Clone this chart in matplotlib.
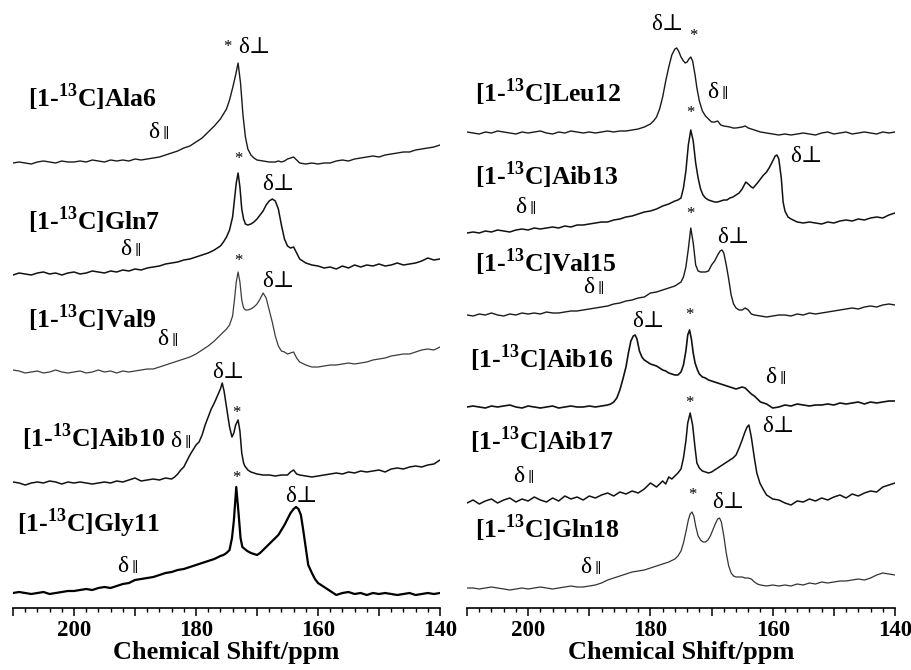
import matplotlib
matplotlib.use("Agg")
import matplotlib.pyplot as plt
from matplotlib.ticker import MultipleLocator, FuncFormatter

plt.rcParams['font.family'] = ['Liberation Serif', 'DejaVu Serif']
plt.rcParams['mathtext.fontset'] = 'custom'
plt.rcParams['mathtext.rm'] = 'Liberation Serif'
plt.rcParams['mathtext.bf'] = 'Liberation Serif:bold'

# -----------------------
# spectra (ppm, intensity in px above baseline)
# -----------------------
ala6_ppm = [210, 209, 208, 207, 206, 205, 204, 203, 202, 201,
            200, 199, 198, 197, 196, 195, 194, 193, 192, 191,
            190, 189, 188, 187, 186, 185, 184, 183, 182, 181,
            180, 179, 178, 177, 176, 175, 174.5, 174, 173.5, 173.1,
            172.7, 172.3, 171.9, 171.5, 171, 170.5, 170, 169, 168, 167,
            166.5, 166, 165.5, 165, 164, 163, 162, 161, 160, 159,
            158, 157, 156, 155, 154, 153, 152, 151, 150, 149,
            148, 147, 146, 145, 144, 143, 142, 141, 140]
ala6_int = [0, 1, 0, -1, 1, 2, 1, 0, 2, 1,
            1, 2, 1, 3, 2, 1, 3, 2, 3, 2,
            4, 3, 4, 5, 6, 8, 10, 12, 15, 17,
            21, 25, 31, 37, 44, 54, 63, 75, 88, 100,
            80, 48, 26, 14, 8, 5, 3, 2, 1, 1,
            2, 1, 2, 4, 6, 0, -1, 0, -1, 0,
            0, 2, 3, 2, 4, 5, 6, 7, 6, 8,
            9, 10, 11, 11, 13, 14, 15, 16, 18]

gln7_ppm = [210, 209, 208, 207, 206, 205, 204, 203, 202, 201,
            200, 199, 198, 197, 196, 195, 194, 193, 192, 191,
            190, 189, 188, 187, 186, 185, 184, 183, 182, 181,
            180, 179, 178, 177, 176, 175.5, 175, 174.5, 174, 173.7,
            173.4, 173.1, 172.8, 172.5, 172.2, 171.9, 171.5, 171, 170.5, 170,
            169.5, 169, 168.5, 168, 167.5, 167, 166.5, 166, 165.5, 165,
            164.5, 164, 163.5, 163, 162, 161, 160, 159, 158, 157,
            156, 155, 154, 153, 152, 151, 150, 149, 148, 147,
            146, 145, 144, 143, 142, 141, 140]
gln7_int = [0, 2, 1, 0, 2, 3, 1, 2, 0, 2,
            3, 1, 2, 4, 3, 2, 4, 3, 5, 4,
            6, 5, 7, 8, 9, 11, 12, 13, 15, 16,
            18, 20, 22, 25, 29, 33, 38, 45, 58, 75,
            92, 102, 88, 66, 56, 51, 50, 51, 53, 56,
            60, 64, 70, 74, 76, 74, 66, 50, 36, 29,
            27, 28, 22, 16, 12, 10, 9, 7, 8, 6,
            9, 7, 10, 8, 10, 9, 11, 9, 10, 12,
            10, 11, 12, 14, 17, 15, 16]

val9_ppm = [210, 209, 208, 207, 206, 205, 204, 203, 202, 201,
            200, 199, 198, 197, 196, 195, 194, 193, 192, 191,
            190, 189, 188, 187, 186, 185, 184, 183, 182, 181,
            180, 179, 178, 177, 176, 175.5, 175, 174.5, 174, 173.7,
            173.4, 173.1, 172.8, 172.5, 172.2, 171.9, 171.5, 171, 170.5, 170,
            169.5, 169, 168.5, 168, 167.5, 167, 166.5, 166, 165.5, 165,
            164.5, 164, 163.5, 163, 162, 161, 160, 159, 158, 157,
            156, 155, 154, 153, 152, 151, 150, 149, 148, 147,
            146, 145, 144, 143, 142, 141, 140]
val9_int = [2, 1, -1, 0, 1, -1, 0, 2, 0, -1,
            0, 1, -1, 0, 2, 0, 1, -1, 1, 0,
            1, 2, 3, 3, 5, 7, 9, 11, 13, 15,
            18, 22, 26, 31, 37, 40, 43, 47, 56, 72,
            90, 100, 90, 72, 64, 62, 62, 63, 65, 68,
            73, 79, 74, 62, 50, 36, 26, 21, 20, 18,
            19, 20, 14, 10, 7, 5, 5, 6, 7, 7,
            8, 9, 8, 9, 10, 12, 13, 14, 16, 17,
            18, 18, 20, 22, 23, 22, 25]

aib10_ppm = [210, 209, 208, 207, 206, 205, 204, 203, 202, 201,
             200, 199, 198, 197, 196, 195, 194, 193, 192, 191,
             190, 189, 188, 187, 186, 185, 184, 183.5, 183, 182.5,
             182, 181.5, 181, 180.5, 180, 179.5, 179, 178.5, 178, 177.5,
             177, 176.5, 176, 175.7, 175.4, 175.1, 174.8, 174.5, 174.1, 173.8,
             173.5, 173.1, 172.8, 172.5, 172.2, 172, 171.5, 171, 170.5, 170,
             169, 168, 167, 166, 165, 164.5, 164, 163.5, 163, 162,
             161, 160, 159, 158, 157, 156, 155, 154, 153, 152,
             151, 150, 149, 148, 147, 146, 145, 144, 143, 142,
             141, 140]
aib10_int = [1, 0, -2, 0, 1, 0, 2, 1, -1, 1,
             0, 1, 0, -1, 0, 1, 0, 2, 1, 3,
             5, 2, 3, 4, 3, 5, 4, 6, 9, 13,
             16, 22, 28, 33, 38, 41, 48, 58, 66, 74,
             80, 87, 94, 100, 92, 80, 68, 56, 46, 50,
             58, 63, 52, 30, 20, 17, 13, 11, 10, 9,
             8, 8, 7, 8, 8, 11, 13, 9, 8, 7,
             6, 7, 8, 9, 10, 9, 11, 10, 12, 11,
             12, 13, 11, 14, 15, 14, 16, 17, 16, 18,
             19, 23]

gly11_ppm = [210, 209, 208, 207, 206, 205, 204, 203, 202, 201,
             200, 199, 198, 197, 196, 195, 194, 193, 192, 191,
             190, 189, 188, 187, 186, 185, 184, 183, 182, 181,
             180, 179, 178, 177, 176, 175.5, 175, 174.5, 174.1, 173.8,
             173.4, 173.0, 172.7, 172.4, 172, 171.6, 171, 170.5, 170, 169.5,
             169, 168.5, 168, 167.5, 167, 166.5, 166, 165.5, 165, 164.5,
             164, 163.6, 163.2, 162.8, 162.4, 162, 161.6, 161, 160.5, 160,
             159, 158, 157, 156, 155, 154, 153, 152, 151, 150,
             149, 148, 147, 146, 145, 144, 143, 142, 141, 140]
gly11_int = [0, 1, 0, -1, 0, 1, -1, 0, 1, 2,
             2, 3, 4, 3, 5, 6, 5, 7, 9, 10,
             13, 14, 15, 16, 18, 20, 21, 23, 24, 26,
             28, 30, 32, 34, 37, 38, 40, 43, 55, 72,
             106, 78, 55, 46, 44, 42, 40, 39, 38, 40,
             43, 46, 49, 52, 55, 58, 63, 68, 74, 80,
             84, 86, 84, 78, 62, 45, 28, 20, 14, 10,
             6, 2, -2, 0, 1, -1, 0, -2, 0, -1,
             0, -1, -2, -1, 0, -2, -1, 0, -1, 0]

leu12_ppm = [210, 209, 208, 207, 206, 205, 204, 203, 202, 201,
             200, 199, 198, 197, 196, 195, 194, 193, 192, 191,
             190, 189, 188, 187, 186, 185, 184, 183, 182, 181,
             180, 179.5, 179, 178.5, 178, 177.5, 177, 176.5, 176, 175.7,
             175.4, 175, 174.6, 174.3, 174, 173.7, 173.4, 173.1, 172.7, 172.4,
             172, 171.5, 171, 170.5, 170, 169.5, 169, 168.5, 168, 167,
             166.5, 166, 165, 164.5, 164, 163, 162, 161, 160, 159,
             158, 157, 156, 155, 154, 153, 152, 151, 150, 149,
             148, 147, 146, 145, 144, 143, 142, 141, 140]
leu12_int = [1, 0, -1, 1, 0, 2, 1, 0, -1, 1,
             0, 1, 2, 0, -1, 1, 0, 2, 1, 0,
             1, 0, 1, 2, 1, 2, 2, 3, 4, 6,
             9, 12, 16, 24, 36, 52, 66, 78, 84, 85,
             82, 76, 72, 70, 71, 74, 76, 72, 58, 45,
             32, 22, 17, 14, 11, 11, 12, 8, 7, 6,
             5, 5, 6, 7, 5, 3, 1, 0, -1, -2,
             -1, -2, -1, 0, -1, -2, 0, 1, -1, 0,
             1, -1, 0, 1, 0, -1, 1, 0, 1]

aib13_ppm = [210, 209, 208, 207, 206, 205, 204, 203, 202, 201,
             200, 199, 198, 197, 196, 195, 194, 193, 192, 191,
             190, 189, 188, 187, 186, 185, 184, 183, 182, 181,
             180, 179, 178, 177, 176, 175.5, 175, 174.6, 174.2, 173.8,
             173.4, 173.0, 172.6, 172.2, 171.8, 171.4, 171, 170.5, 170, 169.5,
             169, 168.5, 168, 167.5, 167, 166.5, 166, 165.5, 165, 164.4,
             164, 163.5, 163.2, 162.5, 162, 161.5, 161, 160.5, 160, 159.6,
             159.3, 159, 158.6, 158.3, 158, 157.5, 157, 156, 155, 154,
             153, 152, 151, 150, 149, 148, 147, 146, 145, 144,
             143, 142, 141, 140]
aib13_int = [0, 1, 0, 2, 1, 3, 2, 1, 3, 4,
             3, 5, 4, 5, 6, 5, 7, 6, 8, 8,
             9, 10, 11, 11, 13, 14, 16, 17, 19, 21,
             22, 24, 27, 29, 32, 33, 35, 45, 62, 88,
             103, 92, 70, 55, 44, 38, 35, 33, 32, 31,
             31, 32, 33, 33, 35, 36, 38, 40, 44, 51,
             49, 46, 45, 50, 54, 58, 61, 66, 72, 77,
             78, 74, 55, 31, 22, 16, 14, 11, 10, 11,
             10, 9, 11, 10, 12, 13, 12, 14, 13, 15,
             16, 15, 18, 20]

val15_ppm = [210, 209, 208, 207, 206, 205, 204, 203, 202, 201,
             200, 199, 198, 197, 196, 195, 194, 193, 192, 191,
             190, 189, 188, 187, 186, 185, 184, 183, 182, 181,
             180, 179, 178, 177, 176, 175.5, 175, 174.6, 174.2, 173.8,
             173.4, 173.0, 172.6, 172.2, 171.8, 171.4, 171, 170.5, 170, 169.5,
             169, 168.6, 168.3, 168, 167.6, 167.2, 166.8, 166.4, 166, 165.5,
             165, 164.5, 164, 163.5, 163, 162, 161, 160, 159, 158,
             157, 156, 155, 154, 153, 152, 151, 150, 149, 148,
             147, 146, 145, 144, 143, 142, 141, 140]
val15_int = [0, -1, 1, 0, 2, 0, -1, 1, 0, 2,
             1, 2, 1, 3, 2, 2, 3, 4, 4, 5,
             6, 7, 8, 9, 11, 12, 14, 15, 17, 18,
             22, 23, 25, 27, 29, 31, 33, 38, 48, 66,
             87, 72, 50, 44, 43, 43, 43, 44, 50, 54,
             60, 64, 65, 62, 50, 36, 20, 11, 7, 5,
             5, 7, 5, 1, 0, -1, -2, -1, 0, 0,
             -1, 1, 0, 2, 1, 2, 3, 4, 5, 6,
             7, 6, 8, 9, 8, 10, 11, 10]

aib16_ppm = [210, 209, 208, 207, 206, 205, 204, 203, 202, 201,
             200, 199, 198, 197, 196, 195, 194, 193, 192, 191,
             190, 189, 188, 187, 186.5, 186, 185.5, 185, 184.5, 184,
             183.6, 183.2, 182.8, 182.5, 182.2, 181.8, 181.4, 181, 180.5, 180,
             179.5, 179, 178.5, 178, 177.5, 177, 176.5, 176, 175.5, 175,
             174.6, 174.2, 173.9, 173.6, 173.3, 173, 172.7, 172.3, 172, 171.5,
             171, 170.5, 170, 169.5, 169, 168.5, 168, 167.5, 167, 166.5,
             166, 165.5, 165, 164.5, 164, 163.5, 163, 162.5, 162, 161.5,
             161, 160.5, 160, 159, 158, 157, 156, 155, 154, 153,
             152, 151, 150, 149, 148, 147, 146, 145, 144, 143,
             142, 141, 140]
aib16_int = [0, 1, 0, -1, 1, 0, 1, 2, 0, -1,
             1, 0, -1, 0, 1, -1, 0, 1, 0, 0,
             1, 0, 1, 2, 3, 5, 9, 17, 28, 40,
             54, 66, 71, 72, 68, 56, 50, 47, 45, 43,
             42, 41, 39, 37, 36, 34, 33, 32, 32, 35,
             42, 56, 72, 77, 68, 54, 44, 37, 33, 30,
             29, 27, 26, 25, 24, 23, 22, 21, 20, 19,
             18, 19, 20, 19, 16, 13, 11, 8, 5, 4,
             3, 1, -1, 0, 2, 1, 3, 2, 1, 2,
             2, 3, 2, 4, 3, 4, 5, 3, 5, 4,
             5, 6, 6]

aib17_ppm = [210, 209, 208, 207, 206, 205, 204, 203, 202, 201,
             200, 199, 198, 197, 196, 195, 194, 193, 192, 191,
             190, 189, 188, 187, 186, 185, 184, 183, 182, 181,
             180, 179, 178, 177.5, 177, 176.5, 176, 175.5, 175, 174.6,
             174.2, 173.9, 173.5, 173.1, 172.7, 172.4, 172, 171.5, 171, 170.5,
             170, 169.5, 169, 168.5, 168, 167.5, 167, 166.5, 166, 165.5,
             165, 164.6, 164.2, 163.9, 163.5, 163, 162.6, 162.1, 161.5, 161,
             160, 159, 158, 157, 156, 155, 154, 153, 152, 151,
             150, 149, 148, 147, 146, 145, 144, 143, 142, 141,
             140]
aib17_int = [0, 3, -1, 2, 4, 0, 3, 5, 1, 4,
             2, 6, 3, 1, 5, 2, 7, 4, 6, 3,
             7, 5, 8, 10, 7, 11, 9, 12, 10, 14,
             20, 16, 22, 19, 26, 24, 27, 30, 34, 45,
             62, 80, 90, 78, 55, 40, 35, 32, 31, 30,
             31, 33, 35, 37, 39, 41, 43, 45, 48, 55,
             63, 70, 76, 78, 66, 45, 30, 20, 13, 8,
             4, 3, 0, -2, 2, 1, 4, 2, 5, 3,
             6, 8, 5, 9, 7, 10, 12, 11, 16, 18,
             20]

gln18_ppm = [210, 209, 208, 207, 206, 205, 204, 203, 202, 201,
             200, 199, 198, 197, 196, 195, 194, 193, 192, 191,
             190, 189, 188, 187, 186, 185, 184, 183, 182, 181,
             180, 179, 178, 177, 176, 175.5, 175, 174.6, 174.2, 173.8,
             173.5, 173.2, 172.9, 172.6, 172.2, 171.8, 171.4, 171, 170.6, 170.2,
             169.8, 169.4, 169, 168.7, 168.4, 168, 167.6, 167.2, 166.8, 166.4,
             166, 165.5, 165, 164.5, 164, 163.5, 163, 162.5, 162, 161,
             160, 159, 158, 157, 156, 155, 154, 153, 152, 151,
             150, 149, 148, 147, 146, 145, 144, 143, 142, 141,
             140]
gln18_int = [0, 0, -1, 0, 1, 0, -1, -2, -1, 0,
             -1, 0, 1, 0, -1, 0, 1, 2, 1, 1,
             2, 3, 5, 8, 10, 12, 14, 16, 17, 18,
             20, 22, 24, 26, 29, 32, 37, 45, 56, 68,
             74, 76, 72, 62, 52, 48, 46, 46, 48, 52,
             58, 64, 69, 70, 66, 52, 35, 22, 15, 12,
             11, 11, 11, 10, 10, 9, 6, 4, 3, 2,
             3, 2, 3, 2, 4, 3, 5, 4, 6, 5,
             6, 7, 7, 8, 9, 8, 10, 13, 15, 14,
             13]

left_names = ['Ala6', 'Gln7', 'Val9', 'Aib10', 'Gly11']
right_names = ['Leu12', 'Aib13', 'Val15', 'Aib16', 'Aib17', 'Gln18']

# -----------------------
# layout: offsets, label positions, line styles
# -----------------------
traces = {
    'Ala6':  dict(ppm=ala6_ppm, val=ala6_int, base=445, lab=(207.5, 501), perp=(173.1, 555), par=(187.9, 470), star=(174.9, 561), c='#1a1a1a', lw=1.0),
    'Gln7':  dict(ppm=gln7_ppm, val=gln7_int, base=333, lab=(207.5, 378), perp=(169.2, 418), par=(192.5, 353), star=(173.1, 449), c='#111111', lw=1.1),
    'Val9':  dict(ppm=val9_ppm, val=val9_int, base=236, lab=(207.5, 280), perp=(169.2, 321), par=(186.4, 263), star=(173.1, 347), c='#3c3c3c', lw=0.9),
    'Aib10': dict(ppm=aib10_ppm, val=aib10_int, base=125, lab=(208.5, 161), perp=(177.4, 230), par=(184.3, 161), star=(173.3, 195), c='#111111', lw=1.1),
    'Gly11': dict(ppm=gly11_ppm, val=gly11_int, base=15, lab=(209.3, 76), perp=(165.4, 106), par=(193.0, 36), star=(173.4, 130), c='#000000', lw=1.6),
    'Leu12': dict(ppm=leu12_ppm, val=leu12_int, base=475, lab=(208.7, 506), perp=(179.9, 578), par=(170.7, 510), star=(173.0, 572), c='#1a1a1a', lw=1.0),
    'Aib13': dict(ppm=aib13_ppm, val=aib13_int, base=375, lab=(208.7, 423), perp=(157.2, 446), par=(202.1, 395), star=(173.4, 495), c='#111111', lw=1.1),
    'Val15': dict(ppm=val15_ppm, val=val15_int, base=293, lab=(208.7, 336), perp=(169.1, 365), par=(191.0, 315), star=(173.4, 394), c='#1a1a1a', lw=1.0),
    'Aib16': dict(ppm=aib16_ppm, val=aib16_int, base=201, lab=(209.5, 240), perp=(183.0, 281), par=(161.3, 225), star=(173.7, 293), c='#111111', lw=1.2),
    'Aib17': dict(ppm=aib17_ppm, val=aib17_int, base=105, lab=(209.5, 158), perp=(161.8, 176), par=(202.5, 126), star=(173.7, 205), c='#111111', lw=1.1),
    'Gln18': dict(ppm=gln18_ppm, val=gln18_int, base=20, lab=(208.7, 70), perp=(169.9, 100), par=(191.5, 35), star=(173.2, 113), c='#333333', lw=0.9),
}

fig = plt.figure(figsize=(9.11, 6.70), dpi=100)
ax_l = fig.add_axes([13 / 911, 62 / 670, 427 / 911, 608 / 670])
ax_r = fig.add_axes([467 / 911, 62 / 670, 428 / 911, 608 / 670])


def par_label(ax, x, y):
    ax.text(x, y, 'δ', fontsize=17, ha='left', va='baseline')
    ax.annotate('∥', xy=(x, y), xytext=(10.5, 0), textcoords='offset points',
                fontsize=10, ha='left', va='baseline', family=['DejaVu Serif'])


def draw_panel(ax, names):
    for nm in names:
        t = traces[nm]
        yy = [t['base'] + v for v in t['val']]
        ax.plot(t['ppm'], yy, color=t['c'], lw=t['lw'], solid_joinstyle='round')
        ax.text(t['lab'][0], t['lab'][1], '[1-$^{\\mathbf{13}}$C]' + nm,
                fontsize=18.5, fontweight='bold', ha='left', va='baseline')
        ax.text(t['perp'][0], t['perp'][1], 'δ⊥', fontsize=16.5, ha='left', va='baseline')
        par_label(ax, t['par'][0], t['par'][1])
        ax.text(t['star'][0], t['star'][1], '*', fontsize=12, ha='center', va='center')

    ax.set_xlim(210, 140)
    ax.set_ylim(0, 608)
    for s in ['top', 'right', 'left']:
        ax.spines[s].set_visible(False)
    ax.spines['bottom'].set_linewidth(1.2)
    ax.set_yticks([])
    ax.xaxis.set_major_locator(MultipleLocator(10))
    ax.xaxis.set_minor_locator(MultipleLocator(2))
    ax.xaxis.set_major_formatter(FuncFormatter(lambda v, p: '%d' % v if int(round(v)) % 20 == 0 else ''))
    ax.tick_params(axis='x', which='major', length=5.5, width=1.1, direction='out', pad=3,
                   labelsize=16.5)
    ax.tick_params(axis='x', which='minor', length=3, width=1.0, direction='out')
    for lb in ax.get_xticklabels():
        lb.set_fontweight('bold')
    ax.set_xlabel('Chemical Shift/ppm', fontsize=19, fontweight='bold', labelpad=0)
    ax.patch.set_alpha(0)


draw_panel(ax_l, left_names)
draw_panel(ax_r, right_names)

fig.savefig('out.png', dpi=100)
